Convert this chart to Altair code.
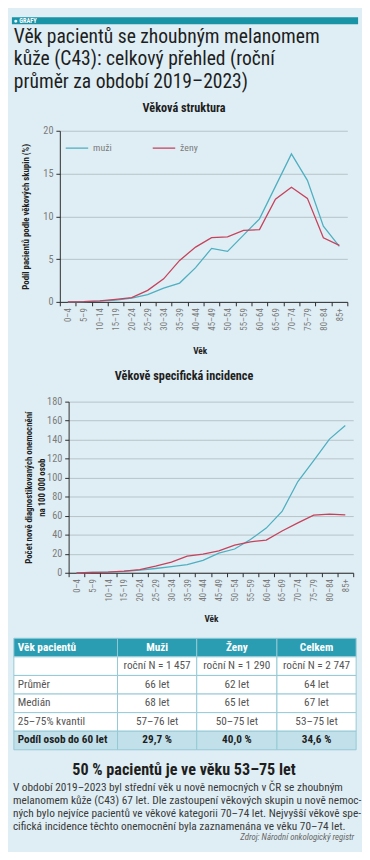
import altair as alt
import pandas as pd

# ---------------- data ----------------
AGE = ["0–4", "5–9", "10–14", "15–19", "20–24", "25–29", "30–34", "35–39", "40–44",
       "45–49", "50–54", "55–59", "60–64", "65–69", "70–74", "75–79", "80–84", "85+"]
SERIES = ["muži", "ženy"]
SHARE_MUZI = [0.0, 0.03, 0.08, 0.22, 0.45, 0.85, 1.6, 2.2, 4.0, 6.25, 5.9, 7.8, 9.7, 13.5, 17.3, 14.2, 8.85, 6.5]
SHARE_ZENY = [0.0, 0.03, 0.12, 0.3, 0.5, 1.35, 2.7, 4.85, 6.4, 7.5, 7.6, 8.35, 8.45, 12.0, 13.4, 12.1, 7.5, 6.6]
INC_MUZI = [0.0, 0.3, 0.7, 1.4, 2.7, 4.5, 6.5, 8.6, 13.0, 20.6, 25.0, 35.0, 47.0, 64.5, 96.0, 118.0, 140.6, 155.0]
INC_ZENY = [0.0, 0.3, 0.7, 1.7, 3.4, 6.9, 11.3, 17.5, 19.5, 23.0, 29.0, 32.6, 34.3, 44.0, 52.5, 60.7, 61.7, 61.0]
SHARE_TICKS = [0, 5, 10, 15, 20]
INC_TICKS = [0, 20, 40, 60, 80, 100, 120, 140, 160, 180]

TABLE_HEADER = ["Věk pacientů", "Muži", "Ženy", "Celkem"]
TABLE_ROWS = [
    ["", "roční N = 1 457", "roční N = 1 290", "roční N = 2 747"],
    ["Průměr", "66 let", "62 let", "64 let"],
    ["Medián", "68 let", "65 let", "67 let"],
    ["25–75% kvantil", "57–76 let", "50–75 let", "53–75 let"],
    ["Podíl osob do 60 let", "29,7 %", "40,0 %", "34,6 %"],
]

TITLE_LINES = ["Věk pacientů se zhoubným melanomem",
               "kůže (C43): celkový přehled (roční",
               "průměr za období 2019–2023)"]
HEADLINE = "50 % pacientů je ve věku 53–75 let"
PARAGRAPH = [
    "V období 2019–2023 byl střední věk u nově nemocných v ČR se zhoubným",
    "melanomem kůže (C43) 67 let. Dle zastoupení věkových skupin u nově nemoc-",
    "ných bylo nejvíce pacientů ve věkové kategorii 70–74 let. Nejvyšší věkově spe-",
    "cifická incidence těchto onemocnění byla zaznamenána ve věku 70–74 let.",
]
SOURCE = "Zdroj: Národní onkologický registr"

# ---------------- style / layout ----------------
FONT = "'Liberation Sans Narrow', 'Roboto Condensed', Roboto, sans-serif"
W = 354
BG = "#dfeef4"
BAND = "#1993a6"
TEAL = "#4eafc0"
RED = "#c6425c"
GRID = "#b5c4c9"
AXIS = "#2a2a2a"
LABEL = "#7b7b7b"
DARK = "#1e1e1e"
TXT = "#3a3a3a"
T_HEAD = "#2a9db2"
T_FOOT = "#c2e0ea"
BORDER = "#93c9d6"
COL_EDGES = [2, 108, 189, 271, 352]

one = pd.DataFrame({"k": [0]})


def txt(text, x, y, size, **kw):
    props = dict(fontSize=size, font=FONT)
    props.update(kw)
    return alt.Chart(one).mark_text(**props).encode(
        x=alt.value(x), y=alt.value(y), text=alt.value(text))


# ---------------- header panel ----------------
band = alt.Chart(one).mark_rect(color=BAND).encode(
    x=alt.value(0), x2=alt.value(W), y=alt.value(0), y2=alt.value(7))
header = alt.layer(
    band,
    txt("●  GRAFY", 2, 4, 6.5, color="white", fontWeight="bold", align="left", baseline="middle"),
    txt(TITLE_LINES, 2, 26, 20, color=DARK, align="left", baseline="alphabetic", lineHeight=23),
    txt("Věková struktura", 176, 93, 12.5, color=DARK, fontWeight="bold", align="center", baseline="middle"),
).properties(width=W, height=116)

# ---------------- chart 1 ----------------
df1 = pd.DataFrame({
    "age": AGE * 2,
    "sex": [SERIES[0]] * len(AGE) + [SERIES[1]] * len(AGE),
    "v": SHARE_MUZI + SHARE_ZENY,
})


def xaxis(title_x, title_y):
    return alt.Axis(title="Věk", tickBand="extent", labelAngle=270, labelFontSize=9,
                    labelColor=LABEL, labelPadding=2, tickSize=4, tickColor=AXIS,
                    domainColor=AXIS, grid=False, titleFontSize=9.5, titleColor=DARK,
                    titleFontWeight="bold", titleX=title_x, titleY=title_y,
                    titleBaseline="middle", titleAlign="center")


def yaxis(values, offset, title, title_x):
    return alt.Axis(values=values, offset=offset, title=title, grid=True, gridColor=GRID,
                    gridWidth=1, domainColor=AXIS, tickColor=AXIS, tickSize=4,
                    labelFontSize=10.5, labelColor=LABEL, labelPadding=3,
                    titleFontSize=9, titleColor=DARK, titleFontWeight="bold",
                    titleAngle=270, titleX=title_x, titleY=87.5, titleAlign="center",
                    titleBaseline="middle", titleLineHeight=13)


chart1 = alt.Chart(df1).mark_line(strokeWidth=1.3).encode(
    x=alt.X("age:N", sort=AGE, bandPosition=0.5,
            scale=alt.Scale(type="band", domain=AGE, range=[49, 343], paddingInner=0, paddingOuter=0),
            axis=xaxis(192, 50)),
    y=alt.Y("v:Q", scale=alt.Scale(domain=[0, 20]),
            axis=yaxis(SHARE_TICKS, -49, "Podíl pacientů podle věkových skupin (%)", -35)),
    color=alt.Color("sex:N", scale=alt.Scale(domain=SERIES, range=[TEAL, RED]),
                    legend=alt.Legend(title=None, orient="none", legendX=54, legendY=5,
                                      direction="horizontal", symbolType="stroke",
                                      symbolSize=529, symbolStrokeWidth=1.3,
                                      labelFontSize=10, labelColor=LABEL, labelOffset=4,
                                      columnPadding=38, padding=0)),
).properties(width=W, height=175)

mid = alt.layer(
    txt("Věkově specifická incidence", 176, 76, 12.5, color=DARK, fontWeight="bold",
        align="center", baseline="middle"),
).properties(width=W, height=102)

# ---------------- chart 2 ----------------
df2 = pd.DataFrame({
    "age": AGE * 2,
    "sex": [SERIES[0]] * len(AGE) + [SERIES[1]] * len(AGE),
    "v": INC_MUZI + INC_ZENY,
})
chart2 = alt.Chart(df2).mark_line(strokeWidth=1.3).encode(
    x=alt.X("age:N", sort=AGE, bandPosition=0.5,
            scale=alt.Scale(type="band", domain=AGE, range=[58, 349], paddingInner=0, paddingOuter=0),
            axis=xaxis(203.5, 47)),
    y=alt.Y("v:Q", scale=alt.Scale(domain=[0, 180]),
            axis=yaxis(INC_TICKS, -58, ["Počet nově diagnostikovaných onemocnění", "na 100 000 osob"], -41)),
    color=alt.Color("sex:N", scale=alt.Scale(domain=SERIES, range=[TEAL, RED]), legend=None),
).properties(width=W, height=175)

# ---------------- table ----------------
cells = []
for r, row in enumerate([TABLE_HEADER] + TABLE_ROWS):
    kind = "head" if r == 0 else ("foot" if r == len(TABLE_ROWS) else "body")
    for c, val in enumerate(row):
        x0, x1 = COL_EDGES[c], COL_EDGES[c + 1]
        cells.append(dict(row=r, col=c, text=val, kind=kind, x0=x0, x1=x1,
                          tx=(x0 + 4) if c == 0 else (x0 + x1) / 2,
                          al="left" if c == 0 else "center"))
cdf = pd.DataFrame(cells)
ROW_SCALE = alt.Scale(type="band", domain=list(range(6)), range=[67, 181], paddingInner=0, paddingOuter=0)
rects = alt.Chart(cdf).mark_rect(stroke=BORDER, strokeWidth=1).encode(
    x=alt.X("x0:Q", scale=None), x2="x1:Q",
    y=alt.Y("row:O", scale=ROW_SCALE, axis=None),
    fill=alt.Fill("kind:N", scale=alt.Scale(domain=["head", "body", "foot"],
                                            range=[T_HEAD, "#ffffff", T_FOOT]), legend=None),
)


def table_text(kind, color, weight, align):
    return alt.Chart(cdf).transform_filter(
        (alt.datum.kind == kind) & (alt.datum.al == align)
    ).mark_text(fontSize=11.5, color=color, fontWeight=weight, align=align,
                baseline="middle", font=FONT).encode(
        x=alt.X("tx:Q", scale=None),
        y=alt.Y("row:O", scale=ROW_SCALE, axis=None, bandPosition=0.5),
        text="text:N")


table_layers = [rects]
for al in ["left", "center"]:
    table_layers += [table_text("head", "white", "bold", al),
                     table_text("body", "#555555", "normal", al),
                     table_text("foot", DARK, "bold", al)]
table = alt.layer(*table_layers).properties(width=W, height=181)

# ---------------- bottom text ----------------
bottom = alt.layer(
    txt(HEADLINE, 176, 21, 16.5, color=DARK, fontWeight="bold", align="center", baseline="middle"),
    txt(PARAGRAPH, 1, 42, 11.6, color=TXT, align="left", baseline="alphabetic", lineHeight=13.3),
    txt(SOURCE, 350, 89.5, 9, color="#666666", fontStyle="italic", align="right", baseline="middle"),
).properties(width=W, height=94)

chart = alt.vconcat(header, chart1, mid, chart2, table, bottom, spacing=0, bounds="flush").resolve_scale(
    color="independent"
).properties(padding=0, background=BG).configure(font=FONT).configure_view(stroke=None)

chart.save("out.html", embed_options={"renderer": "svg", "actions": False})
